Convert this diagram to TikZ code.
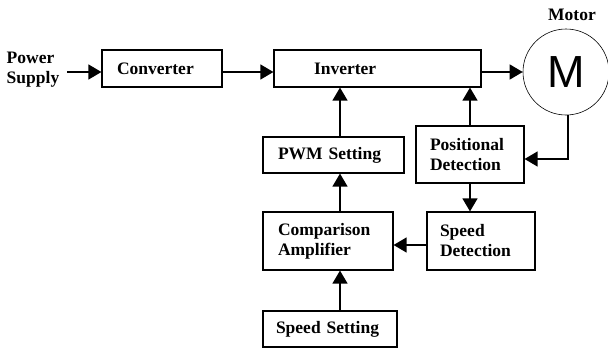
\documentclass[tikz,border=0pt]{standalone}
\usepackage{fontspec}
\setmainfont{Liberation Serif}
\newfontfamily\motorfont{Liberation Sans}
\usetikzlibrary{arrows.meta}

\tikzset{
  blk/.style={draw, line width=1.2pt, inner xsep=15pt, inner ysep=0pt, align=left},
  flow/.style={line width=1.3pt, -{Triangle[length=13pt,width=15pt]}}
}

\begin{document}
\begin{tikzpicture}[x=1pt, y=-1pt, font=\fontsize{17.5}{20}\selectfont\bfseries]
        \useasboundingbox (0,0) rectangle (608,351);
        \node[align=left, inner sep=2pt] (ps) at (33,70) {Power\\Supply};
        \node[blk, text width=90pt, minimum height=37pt] (conv) at (162,68.5) {Converter};
        \node[blk, inner xsep=40pt, text width=127pt, minimum height=37pt] (inv) at (377.5,68.5) {Inverter};
        \node[draw, circle, line width=0.6pt, minimum size=86pt, inner sep=0pt,
              font=\motorfont\fontsize{45}{45}\selectfont] (m) at (566,72) {M};
        \node (mlbl) at (572,15) {Motor};
        \node[blk, text width=111pt, minimum height=36pt] (pwm) at (333.5,155) {PWM Setting};
        \node[blk, inner xsep=14pt, text width=80pt, minimum height=57pt] (pos) at (470,154.5) {Positional\\Detection};
        \node[blk, text width=100pt, minimum height=58pt] (comp) at (328,241) {Comparison\\Amplifier};
        \node[blk, inner xsep=13pt, text width=82pt, minimum height=58pt] (sdet) at (481,241) {Speed\\Detection};
        \node[blk, inner xsep=13pt, text width=108pt, minimum height=36pt] (sset) at (330,329) {Speed Setting};

        \draw[flow] ([xshift=6pt,yshift=-2pt]ps.east) -- ([yshift=-3.5pt]conv.west);
        \draw[flow] ([yshift=-3.5pt]conv.east) -- ([yshift=-3.5pt]inv.west);
        \draw[flow] ([yshift=-3.5pt]inv.east) -- (m.west);
        \draw[flow] ([xshift=2pt]m.south) |- ([yshift=-4.5pt]pos.east);
        \draw[flow] (pos.north) -- (pos.north |- inv.south);
        \draw[flow] (pos.south) -- (pos.south |- sdet.north);
        \draw[flow] ([yshift=-4pt]sdet.west) -- ([yshift=-4pt]sdet.west -| comp.east);
        \draw[flow] ([xshift=6.5pt]pwm.north) -- ([xshift=6.5pt]pwm.north |- inv.south);
        \draw[flow] ([xshift=12pt]comp.north) -- ([xshift=12pt]comp.north |- pwm.south);
        \draw[flow] ([xshift=10pt]sset.north) -- ([xshift=10pt]sset.north |- comp.south);
      \end{tikzpicture}
\end{document}
